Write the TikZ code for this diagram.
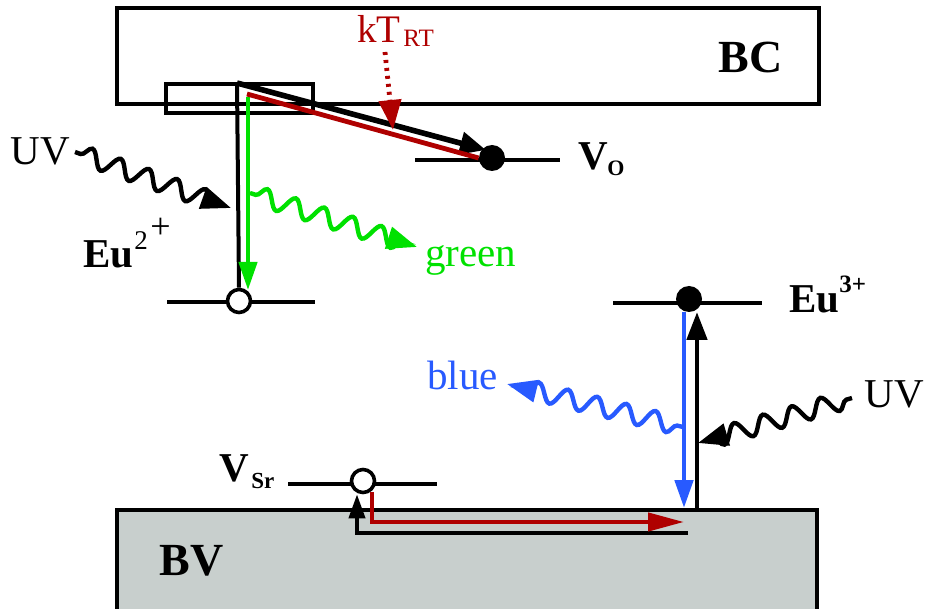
\documentclass[tikz,border=0pt]{standalone}
\usepackage{fontspec}
\setmainfont{Liberation Serif}
\usetikzlibrary{arrows.meta,decorations.pathmorphing}
\definecolor{grn}{RGB}{0,225,0}
\definecolor{dred}{RGB}{175,0,0}
\definecolor{blu}{RGB}{40,90,255}
\definecolor{bvgray}{RGB}{200,207,205}
\tikzset{
  box/.style={line width=2pt},
  lvl/.style={line width=2pt},
  wave/.style={decorate, decoration={snake, amplitude=4.5pt, segment length=15pt, pre length=3pt, post length=7pt}, line width=2.2pt},
  tip/.style={-{Triangle[length=15pt,width=11pt]}},
  lab/.style={inner sep=0pt, anchor=base west},
  opendot/.style={circle, draw, line width=1.8pt, fill=white, minimum size=11.5pt, inner sep=0pt},
  fulldot/.style={circle, fill=black, minimum size=13pt, inner sep=0pt},
  fbig/.style={font=\fontsize{20.5}{24}\selectfont},
  fbigb/.style={font=\fontsize{20.5}{24}\selectfont\bfseries},
  fbox/.style={font=\fontsize{23}{27}\selectfont\bfseries}
}
\begin{document}
\begin{tikzpicture}[x=0.5pt,y=-0.5pt]
\useasboundingbox (0,0) rectangle (927,609);
% bands
\draw[box, fill=bvgray] (117,510) rectangle (817,620);
\draw[box] (117,8) rectangle (819,104);
\draw[box] (166,84) rectangle (313,113);
\node[lab, fbox] (bc) at (718,73) {BC};
\node[lab, fbox] (bv) at (159,575) {BV};

% Eu2+ centre
\coordinate (euTop) at (237,83);
\draw[lvl] (167,302) -- (315,302);
\node[opendot] (c2) at (239,301) {};
\draw[lvl] (euTop) -- (c2.north);
\coordinate (gS) at (248,97);
\coordinate (gE) at (248,290);
\draw[grn, line width=2.2pt, -{Triangle[length=14pt,width=9pt]}] (gS) -- (gE);

% V_O level
\draw[lvl] (415,160) -- (560,160);
\node[fulldot] (vo) at (492,158) {};
\coordinate (bkEnd) at (486,150);
\coordinate (rdS) at (247,94);
\draw[line width=2.8pt, -{Triangle[length=13pt,width=11pt]}] (euTop) -- (bkEnd);
\draw[dred, line width=2.4pt] (rdS) -- (vo.west);

% kT_RT
\node[lab, dred, font=\fontsize{19.5}{22}\selectfont] (kt) at (357,43) {kT};
\node[lab, dred, font=\fontsize{12.5}{14}\selectfont] (rt) at (403,47) {RT};
\coordinate (ktS) at (385,52);
\coordinate (ktE) at (393,130);
\draw[dred, line width=2.4pt, dash pattern=on 1.5pt off 2.5pt, -{Triangle[length=15pt,width=11pt]}] (ktS) -- (ktE);

% Eu3+ centre
\draw[lvl] (613,303) -- (762,303);
\node[fulldot] (c3) at (689,299) {};
\coordinate (upS) at (697,511);
\coordinate (upE) at (697,312);
\draw[line width=2.4pt, -{Triangle[length=14pt,width=10pt]}] (upS) -- (upE);
\coordinate (dnS) at (684,312);
\coordinate (dnE) at (684,508);
\draw[blu, line width=2.4pt, -{Triangle[length=14pt,width=9pt]}] (dnS) -- (dnE);

% V_Sr
\draw[lvl] (288,484) -- (437,484);
\node[opendot] (csr) at (363,481) {};
\coordinate (lc) at (357,533);
\coordinate (lr) at (688,533);
\draw[line width=2pt, -{Triangle[length=12pt,width=8pt]}] (lr) -- (lc) -- (csr.south -| lc);
\coordinate (rt0) at (372,492);
\coordinate (rc) at (372,522);
\coordinate (rr) at (684,522);
\draw[dred, line width=2.2pt, -{Triangle[length=18pt,width=9pt]}] (rt0) -- (rc) -- (rr);

% waves
\coordinate (uv1S) at (75,152);
\coordinate (uv1E) at (231,208);
\draw[wave, tip] (uv1S) -- (uv1E);
\coordinate (gwS) at (250,193);
\coordinate (gwE) at (417,247);
\draw[wave, grn, tip] (gwS) -- (gwE);
\coordinate (bwS) at (683,427);
\coordinate (bwE) at (507,384);
\draw[wave, blu, tip] (bwS) -- (bwE);
\coordinate (uv2S) at (852,398);
\coordinate (uv2E) at (698,443);
\draw[wave, tip] (uv2S) -- (uv2E);

% labels
\node[lab, fbig] (uv1) at (10,165) {UV};
\node[lab, fbig] (uv2) at (864,408) {UV};
\node[lab, fbig, grn] (green) at (425,267) {green};
\node[lab, fbig, blu] (blue) at (427,390) {blue};
\node[lab, fbigb] (eu2) at (83,268) {Eu};
\node[lab, font=\fontsize{13.5}{15}\selectfont] (eu2a) at (134,250) {2};
\node[lab, font=\fontsize{18}{20}\selectfont] (eu2b) at (150,239) {+};
\node[lab, fbigb] (eu3) at (789,313) {Eu};
\node[lab, font=\fontsize{12.5}{14}\selectfont\bfseries] (eu3a) at (839,293) {3+};
\node[lab, fbigb] (vo1) at (578,170) {V};
\node[lab, font=\fontsize{11}{12}\selectfont\bfseries] (vo2) at (607,176) {O};
\node[lab, fbigb] (vsr1) at (219,481) {V};
\node[lab, font=\fontsize{11.5}{13}\selectfont\bfseries] (vsr2) at (251,488) {Sr};
\end{tikzpicture}
\end{document}
